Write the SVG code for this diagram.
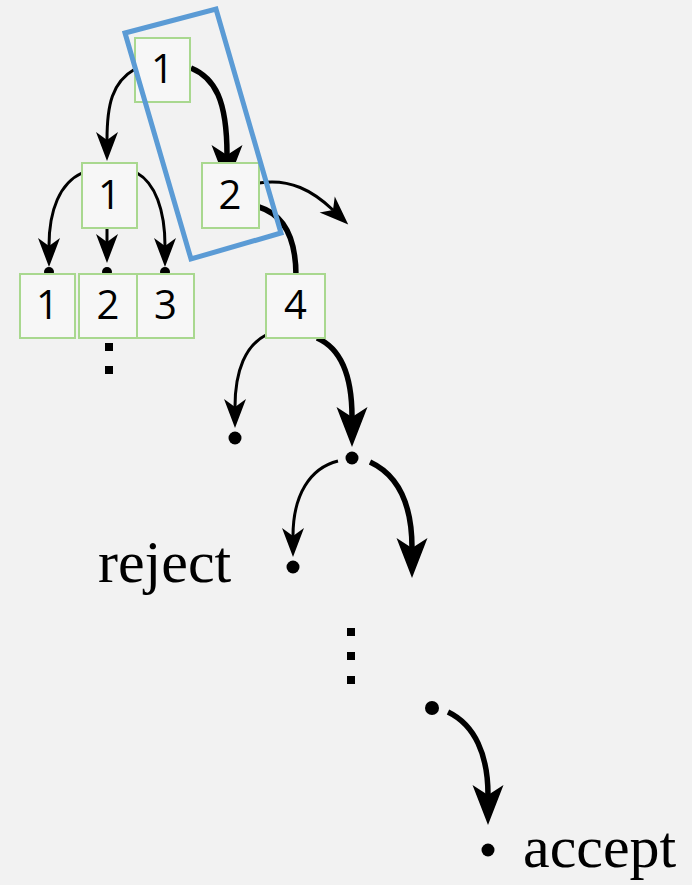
<svg xmlns="http://www.w3.org/2000/svg" width="692" height="885" viewBox="0 0 692 885">
<style>
.bg{fill:#f2f2f2}
.box{fill:#f7f7f7;stroke:#a9d88f;stroke-width:2}
.lbl{font-family:"Open Sans","DejaVu Sans",sans-serif;font-size:40px;fill:#000;text-anchor:middle}
.word{font-family:"Liberation Serif","Times New Roman",serif;font-size:60px;fill:#000}
.thin{fill:none;stroke:#000;stroke-width:3}
.thick{fill:none;stroke:#000;stroke-width:5.5}
.dot{fill:#000}
</style>
<defs>
<marker id="ahThin" markerUnits="userSpaceOnUse" viewBox="-31 -13 33 26" markerWidth="33" markerHeight="26" refX="-21" refY="0" orient="auto">
<path d="M0,0 L-29,-11 L-21,0 L-29,11 Z" fill="#000"/>
</marker>
<marker id="ahThick" markerUnits="userSpaceOnUse" viewBox="-42 -18 44 36" markerWidth="44" markerHeight="36" refX="-30" refY="0" orient="auto">
<path d="M0,0 L-40,-15.5 L-30,0 L-40,15.5 Z" fill="#000"/>
</marker>
</defs>
<rect class="bg" x="0" y="0" width="692" height="885"/>
<g id="connectors">
<path class="thin" d="M135,69 C112,82 107,105 107,140" marker-end="url(#ahThin)"/>
<path class="thick" d="M191,68 C215,78 227,100 227,155" marker-end="url(#ahThick)"/>
<path class="thin" d="M82,173 C60,183 49,210 49,246" marker-end="url(#ahThin)"/>
<path class="thin" d="M107,228 L107,242" marker-end="url(#ahThin)"/>
<path class="thin" d="M137,173 C155,183 165,210 165,246" marker-end="url(#ahThin)"/>
<path class="thin" d="M259,183 C290,178 313,191 333,210" marker-end="url(#ahThin)"/>
<path class="thick" d="M259,207 C285,215 296,240 296,276"/>
<path class="thin" d="M266,335 C246,345 235,370 235,407" marker-end="url(#ahThin)"/>
<path class="thick" d="M317,338 C340,348 352,375 352,417" marker-end="url(#ahThick)"/>
<path class="thin" d="M338,461 C310,468 293,495 293,536" marker-end="url(#ahThin)"/>
<path class="thick" d="M370,462 C398,475 412,505 412,548" marker-end="url(#ahThick)"/>
<path class="thick" d="M448,712 C475,725 488,755 488,795" marker-end="url(#ahThick)"/>
</g>
<g id="dots">
<circle class="dot" cx="49" cy="272" r="5"/>
<circle class="dot" cx="107" cy="272" r="5"/>
<circle class="dot" cx="165" cy="272" r="5"/>
<circle class="dot" cx="235" cy="438" r="6.5"/>
<circle class="dot" cx="352" cy="458" r="6.5"/>
<circle class="dot" cx="293" cy="567" r="6.5"/>
<circle class="dot" cx="432" cy="708" r="7"/>
<circle class="dot" cx="488" cy="850" r="6.5"/>
</g>
<g id="n1top"><rect class="box" x="135" y="38" width="55" height="64"/><text class="lbl" x="162.5" y="83">1</text></g>
<g id="n1mid"><rect class="box" x="82" y="163" width="55" height="65"/><text class="lbl" x="109.5" y="209">1</text></g>
<g id="n2"><rect class="box" x="202" y="163" width="57" height="65"/><text class="lbl" x="230" y="209">2</text></g>
<g id="n1bot"><rect class="box" x="20" y="274" width="55" height="64"/><text class="lbl" x="47.5" y="319">1</text></g>
<g id="n2bot"><rect class="box" x="79" y="274" width="58" height="64"/><text class="lbl" x="108" y="319">2</text></g>
<g id="n3bot"><rect class="box" x="137" y="274" width="57" height="64"/><text class="lbl" x="165.5" y="319">3</text></g>
<g id="n4"><rect class="box" x="266" y="274" width="59" height="64"/><text class="lbl" x="295.5" y="319">4</text></g>
<g id="highlight"><polygon points="125,33 216,9 281,233 191,259" fill="none" stroke="#5b9bd5" stroke-width="5"/></g>
<g id="ellipsis1"><rect x="105" y="343" width="8" height="8" fill="#000"/><rect x="105" y="366" width="8" height="8" fill="#000"/></g>
<g id="ellipsis2"><rect x="347" y="628" width="8" height="8" fill="#000"/><rect x="347" y="652" width="8" height="8" fill="#000"/><rect x="347" y="676" width="8" height="8" fill="#000"/></g>
<g id="reject"><text class="word" x="98" y="582">reject</text></g>
<g id="accept"><text class="word" x="523" y="867">accept</text></g>
</svg>
